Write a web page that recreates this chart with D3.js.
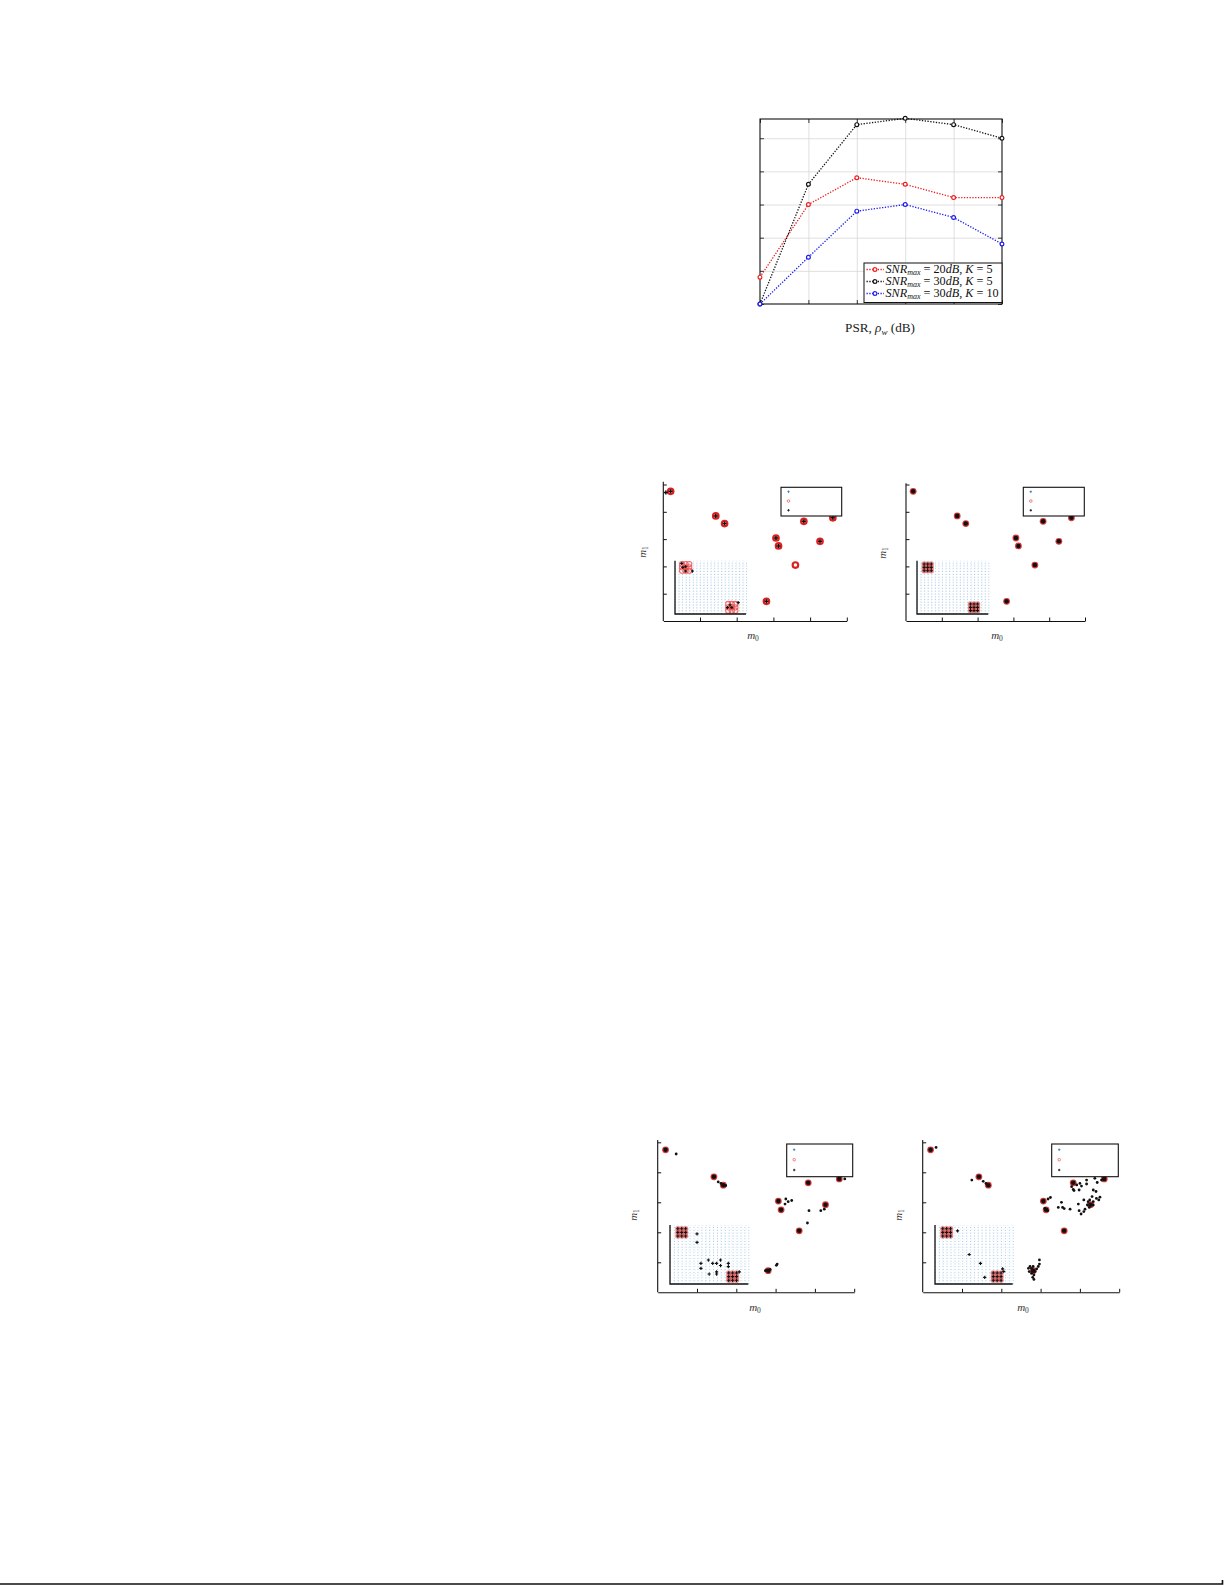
<!DOCTYPE html>
<html><head><meta charset="utf-8">
<script src="https://cdn.jsdelivr.net/npm/d3@7"></script>
<style>body{margin:0;background:#fff} svg{display:block}</style>
</head><body>
<svg id="c" width="1225" height="1585"></svg>
<script>
// ---------------- DATA ----------------
// Line chart: PSR index (no tick labels shown in the picture)
const psrIndex = [0, 1, 2, 3, 4, 5];
const yTicks = [0, 1, 2, 3, 4, 5];
const seriesSnr = ["20", "30", "30"];
const seriesK = ["5", "5", "10"];
const snr20K5 = [0.81, 3.00, 3.81, 3.61, 3.21, 3.21];
const snr30K5 = [0.00, 3.61, 5.41, 5.60, 5.41, 5.00];
const snr30K10 = [0.00, 1.41, 2.80, 3.00, 2.61, 1.81];

// Scatter plots (m0, m1): true constellation points
const trueM0 = [0.20, 1.43, 1.67, 3.07, 3.14, 3.60, 3.83, 4.27, 4.62, 2.81];
const trueM1 = [4.75, 3.85, 3.57, 3.04, 2.75, 2.05, 3.65, 2.92, 3.78, 0.72];
// estimates plot 1
const est1M0 = [0.07, 0.20, 1.43, 1.67, 3.07, 3.14, 3.83, 4.27, 4.62, 2.81];
const est1M1 = [4.71, 4.75, 3.85, 3.57, 3.04, 2.75, 3.65, 2.92, 3.78, 0.72];
// estimates plot 2 = true points
const est2M0 = [0.20, 1.43, 1.67, 3.07, 3.14, 3.60, 3.83, 4.27, 4.62, 2.81];
const est2M1 = [4.75, 3.85, 3.57, 3.04, 2.75, 2.05, 3.65, 2.92, 3.78, 0.72];
// estimates plot 3
const est3M0 = [0.20, 1.43, 1.67, 3.07, 3.14, 3.60, 3.83, 4.27, 4.62, 2.81,
  0.47, 4.76, 3.26, 3.32, 3.41, 3.24, 3.85, 3.81, 4.15, 4.24, 3.04, 3.02,
  1.54, 1.61, 1.68, 1.73, 2.74, 2.78, 2.86];
const est3M1 = [4.75, 3.85, 3.57, 3.04, 2.75, 2.05, 3.65, 2.92, 3.78, 0.72,
  4.61, 3.78, 3.11, 3.02, 3.06, 2.94, 2.72, 2.31, 2.72, 2.77, 0.94, 0.90,
  3.68, 3.63, 3.59, 3.56, 0.72, 0.74, 0.76];
// estimates plot 4
const est4M0 = [0.20, 1.43, 1.67, 3.07, 3.14, 3.60, 3.83, 4.27, 4.62, 2.81,
  0.34, 1.25, 1.54, 1.61, 3.19, 3.25, 3.11, 3.18, 3.45, 3.56, 3.60, 3.53, 3.75,
  3.96, 3.98, 4.03, 4.10, 3.79, 3.83, 3.92, 4.00, 4.04, 4.17, 4.17, 3.98, 3.85,
  4.38, 4.44, 4.55, 4.34, 4.41, 4.31, 4.25, 4.34, 4.42, 4.48, 4.19, 4.24, 4.13,
  4.34, 4.51, 4.10, 4.21,
  2.69, 2.73, 2.77, 2.81, 2.71, 2.77, 2.83, 2.80, 2.83, 2.86, 2.97, 2.97, 2.94, 2.90];
const est4M1 = [4.75, 3.85, 3.57, 3.04, 2.75, 2.05, 3.65, 2.92, 3.78, 0.72,
  4.83, 3.74, 3.70, 3.63, 3.11, 3.16, 2.80, 2.72, 2.83, 2.83, 2.79, 3.00, 2.77,
  2.94, 2.72, 2.61, 2.69, 3.52, 3.43, 3.58, 3.63, 3.54, 3.74, 3.61, 3.41, 3.39,
  3.80, 3.66, 3.74, 3.41, 3.36, 3.19, 3.08, 3.02, 3.13, 3.08, 2.91, 2.83, 2.77,
  2.91, 3.17, 3.08, 3.02,
  0.80, 0.86, 0.80, 0.86, 0.69, 0.63, 0.58, 0.50, 0.43, 0.69, 1.08, 0.94, 0.86, 0.78];

// Insets (lattice coordinates)
const insetTrueX = [2, 3, 4, 2, 3, 4, 2, 3, 4, 15, 16, 17, 15, 16, 17, 15, 16, 17];
const insetTrueY = [13, 13, 13, 14, 14, 14, 15, 15, 15, 1, 1, 1, 2, 2, 2, 3, 3, 3];
const inset1EstX = [1.9, 3.0, 3.0, 4.9, 2.2, 14.8, 17.8, 16.0, 15.5];
const inset1EstY = [15.2, 14.2, 12.9, 12.9, 14.0, 1.9, 3.4, 1.9, 2.7];
const inset2EstX = [2, 3, 4, 2, 3, 4, 2, 3, 4, 15, 16, 17, 15, 16, 17, 15, 16, 17];
const inset2EstY = [13, 13, 13, 14, 14, 14, 15, 15, 15, 1, 1, 1, 2, 2, 2, 3, 3, 3];
const inset3EstX = [2, 3, 4, 2, 3, 4, 2, 3, 4, 15, 16, 17, 15, 16, 17, 15, 16, 17,
  6.9, 6.9, 7.9, 7.9, 9.8, 10.9, 11.9, 12.9, 12.9, 14.9, 14.9, 17.7, 11.9, 11.9, 10.0];
const inset3EstY = [13, 13, 13, 14, 14, 14, 15, 15, 15, 1, 1, 1, 2, 2, 2, 3, 3, 3,
  13.6, 11.3, 5.6, 4.25, 6.5, 5.6, 5.6, 6.5, 5.0, 5.6, 4.7, 3.3, 3.3, 2.7, 2.7];
const inset4EstX = [2, 3, 4, 2, 3, 4, 2, 3, 4, 15, 16, 17, 15, 16, 17, 15, 16, 17,
  5.8, 8.8, 11.7, 12.8, 17.4, 17.7];
const inset4EstY = [13, 13, 13, 14, 14, 14, 15, 15, 15, 1, 1, 1, 2, 2, 2, 3, 3, 3,
  14.4, 8.0, 5.6, 1.8, 4.1, 3.4];
const latticeCols = [0,1,2,3,4,5,6,7,8,9,10,11,12,13,14,15,16,17,18,19,20];
const latticeRows = [0,1,2,3,4,5,6,7,8,9,10,11,12,13,14,15,16];
const scatterTicks = [1, 2, 3, 4, 5];

// ---------------- DRAW ----------------
const svg = d3.select("#c");
const SERIF = "'Liberation Serif','DejaVu Serif',serif";

// ===== Line chart =====
(function () {
  const L = { left: 760, right: 1002, top: 119, bottom: 304 };
  const x = d3.scaleLinear().domain([0, 5]).range([L.left, L.right]);
  const y = d3.scaleLinear().domain([0, 5.58]).range([L.bottom, L.top]);
  const g = svg.append("g");
  const h = L.bottom - L.top, w = L.right - L.left;
  // grid
  g.append("g").attr("transform", `translate(0,${L.bottom})`)
    .call(d3.axisBottom(x).tickValues([1, 2, 3, 4]).tickSize(-h).tickFormat(""))
    .call(s => { s.select(".domain").remove(); s.selectAll("line").attr("stroke", "#d8d8d8").attr("stroke-width", 0.8); });
  g.append("g").attr("transform", `translate(${L.left},0)`)
    .call(d3.axisLeft(y).tickValues([1, 2, 3, 4, 5]).tickSize(-w).tickFormat(""))
    .call(s => { s.select(".domain").remove(); s.selectAll("line").attr("stroke", "#d8d8d8").attr("stroke-width", 0.8); });
  // inward ticks all sides
  const tk = s => { s.select(".domain").remove(); s.selectAll("line").attr("stroke", "#222").attr("stroke-width", 0.9); };
  g.append("g").attr("transform", `translate(0,${L.bottom})`).call(d3.axisBottom(x).tickValues(psrIndex).tickSize(-4).tickFormat("")).call(tk);
  g.append("g").attr("transform", `translate(0,${L.top})`).call(d3.axisTop(x).tickValues(psrIndex).tickSize(-4).tickFormat("")).call(tk);
  g.append("g").attr("transform", `translate(${L.left},0)`).call(d3.axisLeft(y).tickValues(yTicks).tickSize(-4).tickFormat("")).call(tk);
  g.append("g").attr("transform", `translate(${L.right},0)`).call(d3.axisRight(y).tickValues(yTicks).tickSize(-4).tickFormat("")).call(tk);
  g.append("rect").attr("x", L.left).attr("y", L.top).attr("width", w).attr("height", h)
    .attr("fill", "none").attr("stroke", "#111").attr("stroke-width", 1.1);

  const series = [
    { vals: snr20K5, color: "#ee1c1c" },
    { vals: snr30K5, color: "#111111" },
    { vals: snr30K10, color: "#1c1cee" }
  ];
  const line = d3.line().x((d, i) => x(psrIndex[i])).y(d => y(d));
  series.forEach(s => {
    g.append("path").datum(s.vals).attr("d", line).attr("fill", "none")
      .attr("stroke", s.color).attr("stroke-width", 1.3).attr("stroke-dasharray", "1.3,1.5");
    g.selectAll(null).data(s.vals).join("circle")
      .attr("cx", (d, i) => x(psrIndex[i])).attr("cy", d => y(d)).attr("r", 1.9)
      .attr("fill", "#fff").attr("stroke", s.color).attr("stroke-width", 1.2);
  });

  // legend
  const lg = g.append("g");
  lg.append("rect").attr("x", 864).attr("y", 263).attr("width", 138).attr("height", 39.5)
    .attr("fill", "#fff").attr("stroke", "#111").attr("stroke-width", 1);
  const rowsY = [269.5, 281.5, 293.5];
  series.forEach((s, i) => {
    const yy = rowsY[i];
    lg.append("line").attr("x1", 866.5).attr("x2", 884).attr("y1", yy).attr("y2", yy)
      .attr("stroke", s.color).attr("stroke-width", 1.3).attr("stroke-dasharray", "1.3,1.5");
    lg.append("circle").attr("cx", 875).attr("cy", yy).attr("r", 1.9).attr("fill", "#fff")
      .attr("stroke", s.color).attr("stroke-width", 1.2);
    const t = lg.append("text").attr("x", 885.5).attr("y", yy + 3.8).attr("font-family", SERIF)
      .attr("font-size", 12.2).attr("fill", "#111");
    t.append("tspan").attr("font-style", "italic").text("SNR");
    t.append("tspan").attr("font-style", "italic").attr("font-size", 8).attr("dy", 2).text("max");
    t.append("tspan").attr("dy", -2).text(" = " + seriesSnr[i]);
    t.append("tspan").attr("font-style", "italic").text("dB");
    t.append("tspan").text(", ");
    t.append("tspan").attr("font-style", "italic").text("K");
    t.append("tspan").text(" = " + seriesK[i]);
  });
  // x label
  const xl = g.append("text").attr("x", 880).attr("y", 332).attr("text-anchor", "middle")
    .attr("font-family", SERIF).attr("font-size", 13.2).attr("fill", "#222");
  xl.append("tspan").text("PSR, ");
  xl.append("tspan").attr("font-style", "italic").text("ρ");
  xl.append("tspan").attr("font-style", "italic").attr("font-size", 9).attr("dy", 2.5).text("w");
  xl.append("tspan").attr("dy", -2.5).text(" (dB)");
})();

// ===== Scatter plots =====
function plus(g, cx, cy, a, color, sw) {
  g.append("path").attr("d", `M${cx - a},${cy}H${cx + a}M${cx},${cy - a}V${cy + a}`)
    .attr("stroke", color).attr("stroke-width", sw).attr("fill", "none");
}

function scatter(cfg) {
  const g = svg.append("g");
  const x = d3.scaleLinear().domain([0, 5]).range([cfg.left, cfg.left + cfg.step * 5]);
  const y = d3.scaleLinear().domain([0, 5]).range([cfg.bottom, cfg.bottom - cfg.yStep * 5]);
  // inset
  const ins = cfg.inset;
  const ix = d3.scaleLinear().domain([0, 20]).range([ins.left, ins.right]);
  const iy = d3.scaleLinear().domain([0, 16]).range([ins.bottom, ins.top]);
  const ig = g.append("g");
  ig.append("g").attr("transform", `translate(0,${ins.bottom})`)
    .call(d3.axisBottom(ix).tickValues(latticeCols).tickSize(-(ins.bottom - ins.top)).tickFormat(""))
    .call(s => { s.select(".domain").remove(); s.selectAll("line").attr("stroke", "#4b93c8").attr("stroke-width", 0.8).attr("stroke-dasharray", "0.9,1.9").attr("opacity", 0.65); });
  ig.append("g").attr("transform", `translate(${ins.left},0)`)
    .call(d3.axisLeft(iy).tickValues(latticeRows).tickSize(-(ins.right - ins.left)).tickFormat(""))
    .call(s => { s.select(".domain").remove(); s.selectAll("line").attr("stroke", "#8fc0e0").attr("stroke-width", 0.6).attr("stroke-dasharray", "0.8,2.8").attr("opacity", 0.5); });
  insetTrueX.forEach((vx, i) => {
    const c = ig.append("circle").attr("cx", ix(vx)).attr("cy", iy(insetTrueY[i]));
    if (cfg.ring) c.attr("r", 2.6).attr("fill", "none").attr("stroke", "#f04848").attr("stroke-width", 1.1).attr("opacity", 0.8);
    else c.attr("r", 2.7).attr("fill", "#e04a4a").attr("opacity", 0.6);
  });
  cfg.insetEstX.forEach((vx, i) => plus(ig, ix(vx), iy(cfg.insetEstY[i]), 1.6, "#111", 1.1));
  ig.append("path").attr("d", `M${ins.left},${ins.top}V${ins.bottom}H${ins.right}`)
    .attr("fill", "none").attr("stroke", "#111").attr("stroke-width", 1.3);

  // main axes
  g.append("g").attr("transform", `translate(0,${cfg.bottom})`)
    .call(d3.axisBottom(x).tickValues(scatterTicks).tickSize(-3.5).tickSizeOuter(0).tickFormat(""))
    .call(s => { s.select(".domain").attr("stroke", "#111").attr("stroke-width", 1.1); s.selectAll("line").attr("stroke", "#111"); });
  g.append("g").attr("transform", `translate(${cfg.left},0)`)
    .call(d3.axisLeft(y).tickValues(scatterTicks).tickSize(-3.5).tickSizeOuter(0).tickFormat(""))
    .call(s => { s.select(".domain").attr("d", `M0,${cfg.bottom}V${cfg.top}`).attr("stroke", "#111").attr("stroke-width", 1.1); s.selectAll("line").attr("stroke", "#111"); });

  // true points
  trueM0.forEach((v, i) => {
    const c = g.append("circle").attr("cx", x(v)).attr("cy", y(trueM1[i]));
    if (cfg.ring) c.attr("r", 2.8).attr("fill", "none").attr("stroke", "#e01e1e").attr("stroke-width", 2.1);
    else c.attr("r", 3.4).attr("fill", "#d42424").attr("opacity", 0.9);
  });
  // estimates
  cfg.estX.forEach((v, i) => {
    const cx = x(v), cy = y(cfg.estY[i]);
    if (cfg.ring) plus(g, cx, cy, 2.0, "#111", 1.5);
    else if (i < 10) g.append("circle").attr("cx", cx).attr("cy", cy).attr("r", 2.3).attr("fill", "#111");
    else g.append("circle").attr("cx", cx).attr("cy", cy).attr("r", 1.4).attr("fill", "#111");
  });

  // legend
  const lb = cfg.legend;
  g.append("rect").attr("x", lb.x).attr("y", lb.y).attr("width", lb.w).attr("height", lb.h)
    .attr("fill", "#fff").attr("stroke", "#111").attr("stroke-width", 1.1);
  lb.rows.forEach((ry, i) => {
    const mx = lb.x + 7.5;
    if (i === 0) plus(g, mx, ry, 1.2, "#2f7fc0", 0.9);
    if (i === 1) g.append("circle").attr("cx", mx).attr("cy", ry).attr("r", 1.3).attr("fill", "none").attr("stroke", "#f07070").attr("stroke-width", 0.9);
    if (i === 2) plus(g, mx, ry, 1.2, "#111", 0.9);
  });

  // axis labels
  const m0 = g.append("text").attr("x", cfg.m0[0]).attr("y", cfg.m0[1]).attr("text-anchor", "middle")
    .attr("font-family", SERIF).attr("font-size", 11).attr("fill", "#333");
  m0.append("tspan").attr("font-style", "italic").text("m");
  m0.append("tspan").attr("font-size", 7.5).attr("dy", 2).text("0");
  const m1 = g.append("text").attr("transform", `translate(${cfg.m1[0]},${cfg.m1[1]}) rotate(-90)`)
    .attr("text-anchor", "middle").attr("font-family", SERIF).attr("font-size", 11).attr("fill", "#333");
  m1.append("tspan").attr("font-style", "italic").text("m");
  m1.append("tspan").attr("font-size", 7.5).attr("dy", 2).text("1");
}

scatter({ left: 663.3, step: 36.7, bottom: 621, yStep: 27.3, top: 481.7, ring: true,
  estX: est1M0, estY: est1M1, insetEstX: inset1EstX, insetEstY: inset1EstY,
  inset: { left: 675, right: 746, bottom: 614, top: 560.7 },
  legend: { x: 781, y: 487.3, w: 60.7, h: 28.7, rows: [491.7, 501, 510.3] },
  m0: [753, 639], m1: [646, 552] });
scatter({ left: 906, step: 35.8, bottom: 621, yStep: 27.3, top: 483.3, ring: false,
  estX: est2M0, estY: est2M1, insetEstX: inset2EstX, insetEstY: inset2EstY,
  inset: { left: 917, right: 988.3, bottom: 614, top: 560.7 },
  legend: { x: 1023.3, y: 487.3, w: 61, h: 28.7, rows: [491.7, 501, 510.3] },
  m0: [997, 639], m1: [886, 553] });
scatter({ left: 657.7, step: 39.3, bottom: 1292.3, yStep: 30, top: 1140, ring: false,
  estX: est3M0, estY: est3M1, insetEstX: inset3EstX, insetEstY: inset3EstY,
  inset: { left: 670, right: 748.3, bottom: 1284, top: 1225 },
  legend: { x: 786.7, y: 1144, w: 66, h: 32.7, rows: [1149.7, 1159.7, 1170] },
  m0: [755, 1311], m1: [637, 1215] });
scatter({ left: 922.7, step: 39.3, bottom: 1292.3, yStep: 30, top: 1140, ring: false,
  estX: est4M0, estY: est4M1, insetEstX: inset4EstX, insetEstY: inset4EstY,
  inset: { left: 935, right: 1012.7, bottom: 1284, top: 1225 },
  legend: { x: 1051.7, y: 1144, w: 66.6, h: 32.7, rows: [1149.7, 1159.7, 1170] },
  m0: [1023, 1311], m1: [902, 1215] });

// page bottom rule
svg.append("path").attr("d", "M0,1584H1222.5V1580").attr("fill", "none").attr("stroke", "#111").attr("stroke-width", 1.6);
</script>
</body></html>
